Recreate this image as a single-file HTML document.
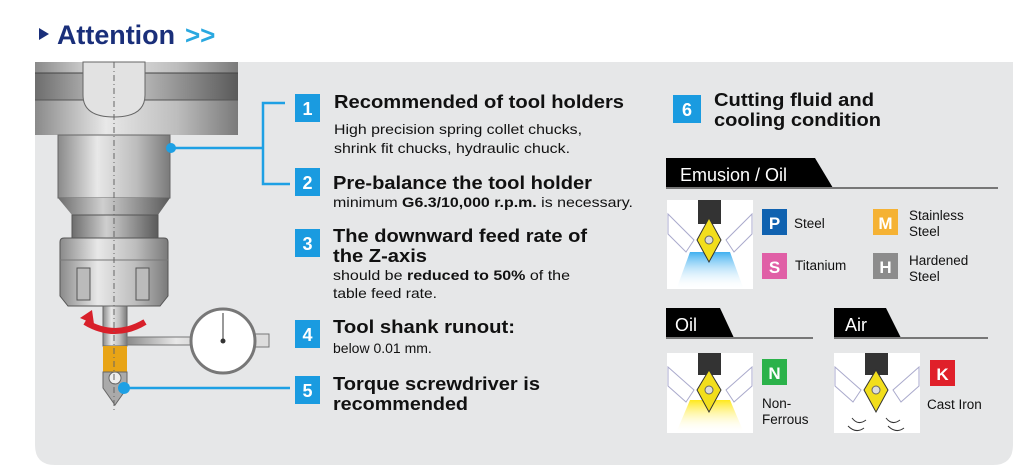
<!DOCTYPE html>
<html><head><meta charset="utf-8"><style>
html,body{margin:0;padding:0;background:#fff;}
body{width:1024px;height:475px;overflow:hidden;position:relative;font-family:"Liberation Sans",Arial,sans-serif;}
svg{position:absolute;left:0;top:0;}
</style></head><body>
<svg width="1024" height="475" viewBox="0 0 1024 475" xmlns="http://www.w3.org/2000/svg" font-family="Liberation Sans, Arial, sans-serif">
<defs>
<linearGradient id="mg" x1="0" x2="1" y1="0" y2="0">
<stop offset="0" stop-color="#8a8a8a"/><stop offset="0.35" stop-color="#e8e8e8"/><stop offset="0.7" stop-color="#bdbdbd"/><stop offset="1" stop-color="#7a7a7a"/>
</linearGradient>
<linearGradient id="mg2" x1="0" x2="1" y1="0" y2="0">
<stop offset="0" stop-color="#6d6d6d"/><stop offset="0.4" stop-color="#cfcfcf"/><stop offset="1" stop-color="#5a5a5a"/>
</linearGradient>
<linearGradient id="bl" x1="0" x2="0" y1="0" y2="1"><stop offset="0" stop-color="#3fb0f0"/><stop offset="1" stop-color="#ffffff" stop-opacity="0"/></linearGradient>
<linearGradient id="yl" x1="0" x2="0" y1="0" y2="1"><stop offset="0" stop-color="#ffe81a"/><stop offset="1" stop-color="#ffffff" stop-opacity="0"/></linearGradient>
</defs>
<!-- title -->
<path d="M39,28 L49,34 L39,40 Z" fill="#1a2f7a"/>
<text x="57" y="44" font-size="27" font-weight="bold" fill="#1a2f7a" textLength="118" lengthAdjust="spacingAndGlyphs">Attention</text>
<text x="185" y="44" font-size="26" font-weight="bold" fill="#29a8e0">&gt;&gt;</text>
<!-- panel -->
<path d="M35,62 H1013 V445 Q1013,465 993,465 H55 Q35,465 35,445 Z" fill="#e6e7e8"/>
<!-- machine -->
<rect x="35" y="62" width="203" height="11" fill="url(#mg)"/>
<rect x="35" y="73" width="203" height="27" fill="url(#mg2)"/>
<line x1="35" y1="73" x2="238" y2="73" stroke="#444" stroke-width="1"/>
<rect x="35" y="100" width="203" height="35" fill="url(#mg)"/>
<line x1="35" y1="100" x2="238" y2="100" stroke="#555"/>
<path d="M83,62 V95 Q83,117 114,117 Q145,117 145,95 V62 Z" fill="#e2e2e2" stroke="#666"/>
<path d="M58,135 H170 V198 H58 Z" fill="url(#mg)" stroke="#666"/>
<path d="M58,198 H170 L158,215 H72 Z" fill="url(#mg2)"/>
<rect x="72" y="215" width="86" height="23" fill="url(#mg2)" stroke="#555"/>
<path d="M60,242 Q60,238 64,238 H164 Q168,238 168,242 V296 L160,306 H68 L60,296 Z" fill="url(#mg)" stroke="#555"/>
<line x1="60" y1="260" x2="168" y2="260" stroke="#777"/>
<rect x="77" y="268" width="13" height="32" fill="#bbb" stroke="#555"/>
<rect x="136" y="268" width="13" height="32" fill="#bbb" stroke="#555"/>
<rect x="103" y="306" width="24" height="40" fill="url(#mg)" stroke="#666"/>
<path d="M103,346 H127 V372 H103 Z" fill="#e8a416"/>
<path d="M103,372 H127 V388 L115,405 L103,388 Z" fill="#aaa" stroke="#666"/>
<circle cx="115" cy="378" r="6" fill="#eee" stroke="#666"/>
<path d="M85,322 Q115,340 145,322" stroke="#d8202a" stroke-width="6" fill="none"/>
<path d="M80,318 L92,310 L94,324 Z" fill="#d8202a"/>
<line x1="114" y1="62" x2="114" y2="410" stroke="#666" stroke-dasharray="6,3,1,3" stroke-width="1"/>
<!-- dial -->
<rect x="127" y="337" width="140" height="8" fill="url(#mg)" stroke="#777"/>
<rect x="253" y="334" width="16" height="13" fill="#ddd" stroke="#777"/>
<circle cx="223" cy="341" r="32" fill="#fff" stroke="#777" stroke-width="3"/>
<line x1="223" y1="341" x2="223" y2="313" stroke="#333"/>
<circle cx="223" cy="341" r="2.5" fill="#333"/>
<!-- connectors -->
<g stroke="#1ea0e4" stroke-width="2.5" fill="none">
<path d="M285,103 H263 V184 H290"/>
<path d="M171,148 H263"/>
<path d="M124,388 H290"/>
</g>
<circle cx="171" cy="148" r="5" fill="#1ea0e4"/>
<circle cx="124" cy="388" r="6" fill="#1ea0e4"/>
<!-- numbers -->
<g fill="#1a9be0">
<rect x="295" y="94" width="25" height="28"/>
<rect x="295" y="168" width="25" height="28"/>
<rect x="295" y="229" width="25" height="28"/>
<rect x="295" y="320" width="25" height="28"/>
<rect x="295" y="376" width="25" height="28"/>
<rect x="673" y="95" width="28" height="28"/>
</g>
<g fill="#fff" font-size="18" font-weight="bold" text-anchor="middle">
<text x="307.5" y="115">1</text><text x="307.5" y="189">2</text><text x="307.5" y="250">3</text>
<text x="307.5" y="341">4</text><text x="307.5" y="397">5</text><text x="687" y="116">6</text>
</g>
<g fill="#111">
<text x="334" y="108" font-size="18" font-weight="bold" textLength="290" lengthAdjust="spacingAndGlyphs">Recommended of tool holders</text>
<text x="334" y="134" font-size="14" textLength="248" lengthAdjust="spacingAndGlyphs">High precision spring collet chucks,</text>
<text x="334" y="153" font-size="14" textLength="236" lengthAdjust="spacingAndGlyphs">shrink fit chucks, hydraulic chuck.</text>
<text x="333" y="189" font-size="18" font-weight="bold" textLength="259" lengthAdjust="spacingAndGlyphs">Pre-balance the tool holder</text>
<text x="333" y="207" font-size="14" textLength="300" lengthAdjust="spacingAndGlyphs">minimum <tspan font-weight="bold">G6.3/10,000 r.p.m.</tspan> is necessary.</text>
<text x="333" y="242" font-size="18" font-weight="bold" textLength="254" lengthAdjust="spacingAndGlyphs">The downward feed rate of</text>
<text x="333" y="262" font-size="18" font-weight="bold" textLength="94" lengthAdjust="spacingAndGlyphs">the Z-axis</text>
<text x="333" y="280" font-size="14" textLength="237" lengthAdjust="spacingAndGlyphs">should be <tspan font-weight="bold">reduced to 50%</tspan> of the</text>
<text x="333" y="298" font-size="14" textLength="104" lengthAdjust="spacingAndGlyphs">table feed rate.</text>
<text x="333" y="333" font-size="18" font-weight="bold" textLength="182" lengthAdjust="spacingAndGlyphs">Tool shank runout:</text>
<text x="333" y="353" font-size="14">below 0.01 mm.</text>
<text x="333" y="390" font-size="18" font-weight="bold" textLength="207" lengthAdjust="spacingAndGlyphs">Torque screwdriver is</text>
<text x="333" y="410" font-size="18" font-weight="bold" textLength="135" lengthAdjust="spacingAndGlyphs">recommended</text>
<text x="714" y="106" font-size="18" font-weight="bold" textLength="160" lengthAdjust="spacingAndGlyphs">Cutting fluid and</text>
<text x="714" y="126" font-size="18" font-weight="bold" textLength="167" lengthAdjust="spacingAndGlyphs">cooling condition</text>
</g>
<!-- tabs -->
<path d="M666,158 H815 L833,188 H666 Z" fill="#000"/>
<line x1="666" y1="188" x2="998" y2="188" stroke="#777" stroke-width="2"/>
<text x="680" y="181" font-size="18" fill="#fff">Emusion / Oil</text>
<path d="M666,308 H720 L734,338 H666 Z" fill="#000"/>
<line x1="666" y1="338" x2="813" y2="338" stroke="#777" stroke-width="2"/>
<text x="675" y="331" font-size="18" fill="#fff">Oil</text>
<path d="M834,308 H886 L901,338 H834 Z" fill="#000"/>
<line x1="834" y1="338" x2="988" y2="338" stroke="#777" stroke-width="2"/>
<text x="845" y="331" font-size="18" fill="#fff">Air</text>
<!-- insert images -->
<g>
<rect x="667" y="200" width="86" height="89" fill="#fff"/>
<path d="M690,252 L730,252 L744,290 L676,290 Z" fill="url(#bl)"/>
<path d="M668,214 L694,240 L686,252 L668,234 Z" fill="#fff" stroke="#aac" />
<path d="M752,214 L726,240 L734,252 L752,234 Z" fill="#fff" stroke="#aac"/>
<rect x="698" y="200" width="23" height="24" fill="#333"/>
<path d="M709,218 L721,240 L709,262 L697,240 Z" fill="#f2de1c" stroke="#333"/>
<circle cx="709" cy="240" r="4" fill="#ddd" stroke="#666"/>
</g>
<g>
<rect x="667" y="353" width="86" height="80" fill="#fff"/>
<path d="M690,400 L730,400 L744,433 L676,433 Z" fill="url(#yl)"/>
<path d="M668,367 L694,390 L686,402 L668,386 Z" fill="#fff" stroke="#aac"/>
<path d="M752,367 L726,390 L734,402 L752,386 Z" fill="#fff" stroke="#aac"/>
<rect x="698" y="353" width="23" height="22" fill="#333"/>
<path d="M709,370 L721,390 L709,412 L697,390 Z" fill="#f2de1c" stroke="#333"/>
<circle cx="709" cy="390" r="4" fill="#ddd" stroke="#666"/>
</g>
<g>
<rect x="834" y="353" width="86" height="80" fill="#fff"/>
<path d="M835,367 L861,390 L853,402 L835,386 Z" fill="#fff" stroke="#aac"/>
<path d="M919,367 L893,390 L901,402 L919,386 Z" fill="#fff" stroke="#aac"/>
<rect x="865" y="353" width="23" height="22" fill="#333"/>
<path d="M876,370 L888,390 L876,412 L864,390 Z" fill="#f2de1c" stroke="#333"/>
<circle cx="876" cy="390" r="4" fill="#ddd" stroke="#666"/>
<g fill="none" stroke="#333" stroke-width="1">
<path d="M852,418 Q858,426 866,420"/><path d="M848,426 Q856,434 864,428"/>
<path d="M886,418 Q892,426 900,420"/><path d="M888,426 Q896,434 904,428"/>
</g>
</g>
<!-- badges -->
<g font-weight="bold" font-size="17" text-anchor="middle" fill="#fff">
<rect x="762" y="209" width="25" height="26" fill="#1062b0"/><text x="774.5" y="229">P</text>
<rect x="873" y="209" width="25" height="26" fill="#f5b234"/><text x="885.5" y="229">M</text>
<rect x="762" y="253" width="25" height="26" fill="#e05fa6"/><text x="774.5" y="273">S</text>
<rect x="873" y="253" width="25" height="26" fill="#8c8c8c"/><text x="885.5" y="273">H</text>
<rect x="762" y="359" width="25" height="26" fill="#2bb24a"/><text x="774.5" y="379">N</text>
<rect x="930" y="360" width="25" height="26" fill="#e0202a"/><text x="942.5" y="380">K</text>
</g>
<g fill="#111" font-size="13.5">
<text x="794" y="228">Steel</text>
<text x="909" y="220">Stainless</text><text x="909" y="236">Steel</text>
<text x="795" y="270">Titanium</text>
<text x="909" y="265">Hardened</text><text x="909" y="281">Steel</text>
<text x="762" y="408">Non-</text><text x="762" y="424">Ferrous</text>
<text x="927" y="409">Cast Iron</text>
</g>
</svg>
</body></html>
